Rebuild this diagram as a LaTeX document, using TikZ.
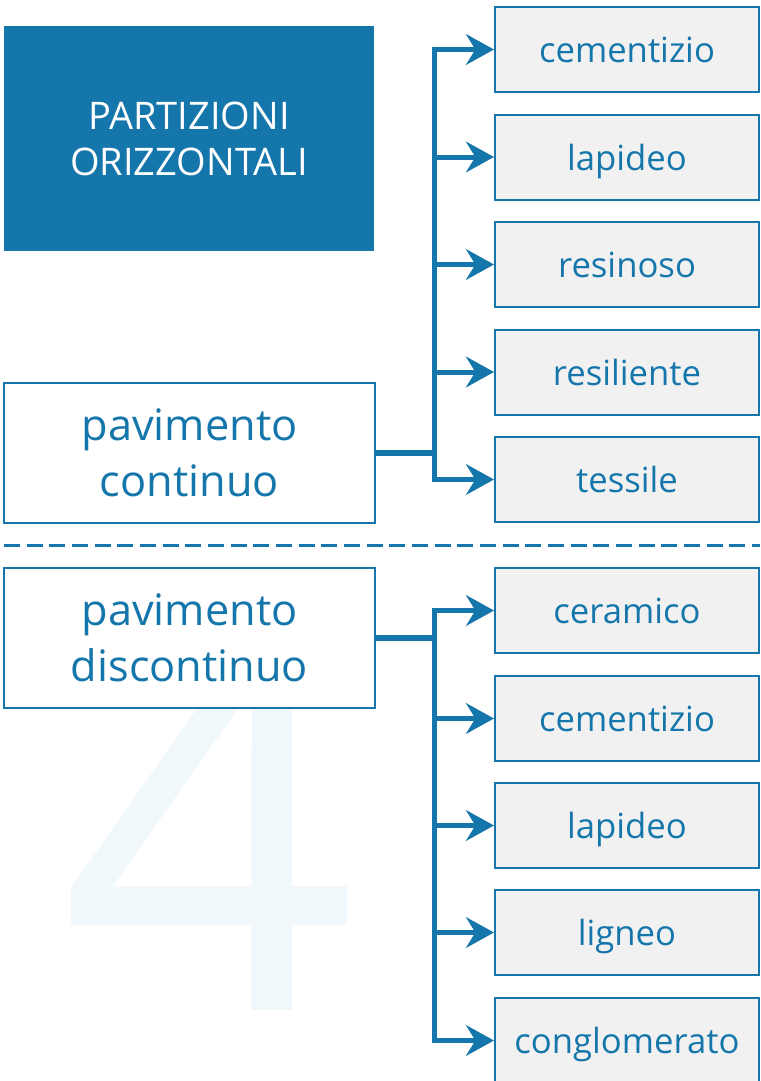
\documentclass[tikz,border=0pt]{standalone}
\usepackage{fontspec}
\setmainfont{Open Sans}
\usetikzlibrary{arrows.meta}
\definecolor{pblue}{RGB}{21,118,171}
\definecolor{boxgray}{RGB}{241,241,241}
\definecolor{wmark}{RGB}{241,248,252}
\begin{document}
\begin{tikzpicture}[x=0.75pt,y=-0.75pt,
        tsty/.style={
            fill=pblue,text=white,inner sep=0pt,
            minimum width=277.5pt,minimum height=168.75pt,
            align=center,font=\fontsize{28.5}{34.5}\selectfont,
        },
        msty/.style={
            draw=pblue,line width=1.5pt,fill=white,text=pblue,inner sep=0pt,
            minimum width=278.25pt,minimum height=105pt,
            align=center,font=\fontsize{32.5}{42}\selectfont,
        },
        bsty/.style={
            draw=pblue,line width=1.5pt,fill=boxgray,text=pblue,inner sep=0pt,
            minimum width=198pt,minimum height=63.75pt,
            text height=24pt,text depth=4pt,font=\fontsize{26}{30}\selectfont,
        },
        asty/.style={draw=pblue,line width=3.75pt,-{Stealth[length=21pt,width=23pt,inset=7pt]}},
        lsty/.style={draw=pblue,line width=4.5pt},
    ]
    \useasboundingbox (0,0) rectangle (760,1081);

    \node[text=wmark,font=\fontsize{390}{390}\selectfont,anchor=base,inner sep=0pt] at (209,1010) (four) {4};

    \node[tsty] at (189,138.5) (title) {PARTIZIONI\\ORIZZONTALI};
    \node[msty] at (189.5,453) (m1) {pavimento\\continuo};
    \node[msty] at (189.5,638) (m2) {pavimento\\discontinuo};

    \coordinate (j1) at (434,453);
    \coordinate (j2) at (434,638);
    \draw[lsty] (m1.east) -- (j1);
    \draw[lsty] (m2.east) -- (j2);

    \foreach \n/\y/\t in {1/49.5/cementizio,2/157/lapideo,3/264.5/resinoso,4/372/resiliente,5/479.5/tessile}{
        \node[bsty] at (627,\y) (a\n) {\t};
        \draw[asty] (j1) |- (a\n.west);
    }
    \foreach \n/\y/\t in {1/610.5/ceramico,2/718.5/cementizio,3/825.5/lapideo,4/932.5/ligneo,5/1040.5/conglomerato}{
        \node[bsty] at (627,\y) (b\n) {\t};
        \draw[asty] (j2) |- (b\n.west);
    }

    \draw[pblue,line width=2.25pt,dash pattern=on 12pt off 5pt] (4,545) -- (760,545);
\end{tikzpicture}
\end{document}
